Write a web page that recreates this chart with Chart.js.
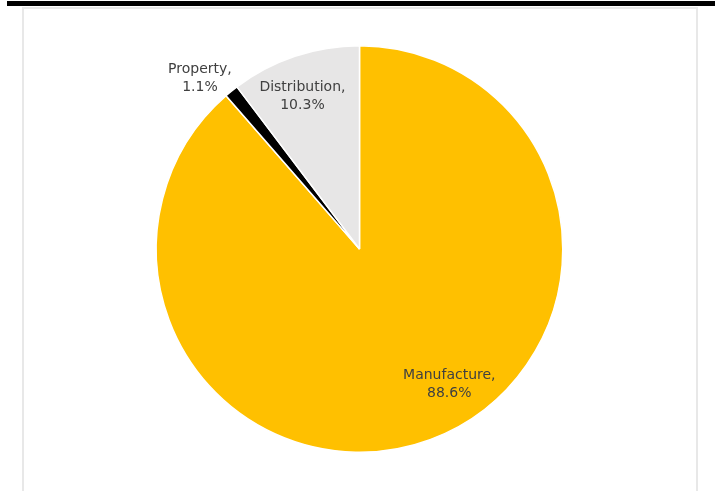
<!DOCTYPE html>
<html>
<head>
<meta charset="utf-8">
<script src="https://cdn.jsdelivr.net/npm/chart.js@4"></script>
<style>
  html, body { margin: 0; padding: 0; background: #fff; overflow: hidden; }
  #topbar { position: absolute; left: 7px; top: 1px; width: 708px; height: 5px; background: #000; }
  #frame { position: absolute; left: 22px; top: 7px; width: 672px; height: 500px; border: 2px solid #e8e8e8; }
  #chart { position: absolute; left: 0; top: 0; }
</style>
</head>
<body>
<div id="topbar"></div>
<div id="frame"></div>
<canvas id="chart" width="715" height="491"></canvas>
<script>
const categories = ['Manufacture', 'Property', 'Distribution'];
const shares = [88.6, 1.1, 10.3];
const sliceColors = ['#FFC000', '#000000', '#E7E6E6'];

// where each label sits: extra rotation (degrees) and distance as a share of the radius
const labelNudge = [-13, -4, -2];
const labelDistance = [0.8, 1.15, 0.8];

const pieLabels = {
    id: 'pieLabels',
    afterDatasetsDraw(chart) {
        const ctx = chart.ctx;
        const meta = chart.getDatasetMeta(0);
        ctx.save();
        ctx.font = '14px "DejaVu Sans", sans-serif';
        ctx.fillStyle = '#404040';
        ctx.textAlign = 'center';
        ctx.textBaseline = 'middle';
        meta.data.forEach((arc, i) => {
            const p = arc.getProps(['x', 'y', 'startAngle', 'endAngle', 'outerRadius'], true);
            const mid = (p.startAngle + p.endAngle) / 2 + labelNudge[i] * Math.PI / 180;
            const r = p.outerRadius * labelDistance[i];
            const x = p.x + Math.cos(mid) * r;
            const y = p.y + Math.sin(mid) * r;
            ctx.fillText(categories[i] + ',', x, y - 9);
            ctx.fillText(shares[i].toFixed(1) + '%', x, y + 9);
        });
        ctx.restore();
    }
};

new Chart(document.getElementById('chart'), {
    type: 'pie',
    data: {
        labels: categories,
        datasets: [{
            data: shares,
            backgroundColor: sliceColors,
            borderColor: '#ffffff',
            borderWidth: 1.5
        }]
    },
    options: {
        responsive: false,
        animation: false,
        layout: {
            padding: { top: 45, bottom: 38, left: 155.5, right: 151.5 }
        },
        plugins: {
            legend: { display: false },
            tooltip: { enabled: false }
        }
    },
    plugins: [pieLabels]
});
</script>
</body>
</html>
